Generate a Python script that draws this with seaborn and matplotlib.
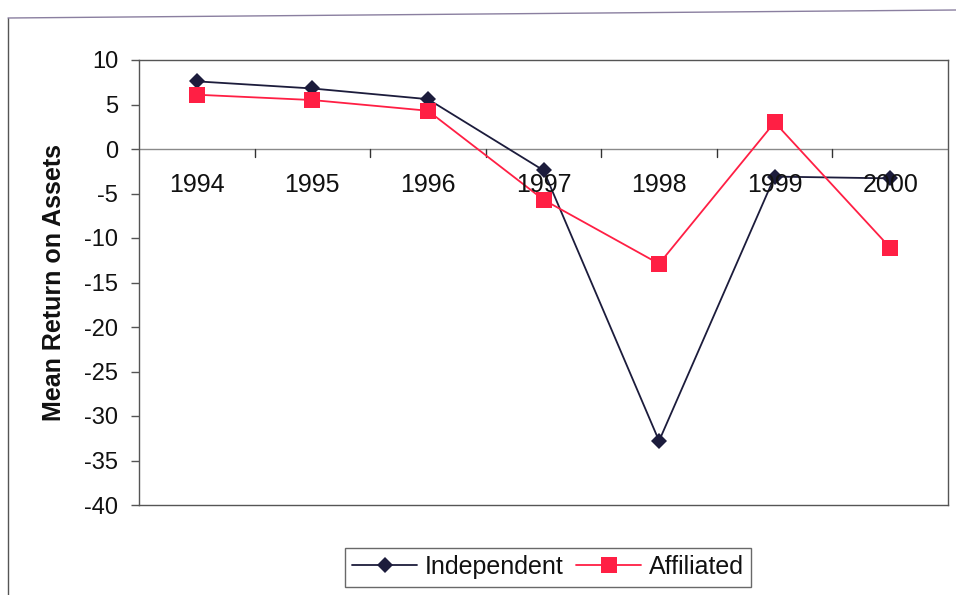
import matplotlib
matplotlib.use("Agg")
import matplotlib.pyplot as plt
import seaborn as sns
import pandas as pd
import numpy as np
from matplotlib.lines import Line2D

years = ["1994", "1995", "1996", "1997", "1998", "1999", "2000"]
independent = [7.6, 6.8, 5.6, -2.4, -32.8, -3.1, -3.3]
affiliated = [6.1, 5.5, 4.3, -5.7, -12.9, 3.0, -11.1]
y_ticks = [10, 5, 0, -5, -10, -15, -20, -25, -30, -35, -40]

df = pd.DataFrame({
    "Year": years * 2,
    "ROA": independent + affiliated,
    "Group": ["Independent"] * len(years) + ["Affiliated"] * len(years),
})

sns.set_theme(style="white")
plt.rcParams["font.family"] = ["Liberation Sans", "DejaVu Sans"]

fig = plt.figure(figsize=(9.56, 5.95), dpi=100)
ax = fig.add_axes([139/956, 1-505/595, (948-139)/956, (505-60)/595])

palette = {"Independent": "#1c1c3c", "Affiliated": "#ff1f44"}
markers = {"Independent": "D", "Affiliated": "s"}
sns.lineplot(data=df, x="Year", y="ROA", hue="Group", style="Group",
             palette=palette, markers=markers, dashes=False, sort=False,
             markersize=9, linewidth=1.3, markeredgewidth=0, ax=ax, legend=False)
for line in ax.get_lines():
    if line.get_marker() == "s":
        line.set_markersize(11)
    else:
        line.set_markersize(8)

ax.set_xlim(-0.5, len(years) - 0.5)
ax.set_ylim(-40, 10)
ax.set_yticks(y_ticks)
ax.set_yticklabels([str(t) for t in y_ticks], fontsize=17, color="#111111")
ax.tick_params(axis="y", direction="out", length=6, width=1, color="#555555", pad=9, left=True)

# category axis crossing at zero
ax.axhline(0, color="#8a8a8a", lw=1.0, zorder=1)
ax.set_xticks(range(len(years)))
ax.set_xticklabels([])
ax.tick_params(axis="x", length=0)
for i, yr in enumerate(years):
    ax.text(i, -4.1, yr, ha="center", va="center", fontsize=18, color="#111111")
for b in np.arange(0.5, len(years) - 0.5, 1.0):
    ax.plot([b, b], [0, -0.9], color="#333333", lw=1.0, zorder=1)

for s in ax.spines.values():
    s.set_color("#555555")
    s.set_linewidth(1.0)
    s.set_visible(True)

ax.set_xlabel("")
ax.set_ylabel("Mean Return on Assets", fontsize=18, fontweight="bold", color="#111111")
ax.yaxis.set_label_coords(-(139-66)/809, 0.5)

# outer chart border
fig.add_artist(Line2D([8/956, 8/956], [0, 1-18/595], color="#555555", lw=1.0))
fig.add_artist(Line2D([8/956, 1], [1-18/595, 1-10/595], color="#8a7fa0", lw=1.0))

handles = [
    Line2D([], [], color=palette["Independent"], marker="D", markersize=8, lw=1.3, markeredgewidth=0),
    Line2D([], [], color=palette["Affiliated"], marker="s", markersize=11, lw=1.3, markeredgewidth=0),
]
leg = fig.legend(handles, ["Independent", "Affiliated"], loc="center",
                 bbox_to_anchor=(548/956, 1-567/595), ncol=2, fontsize=18,
                 frameon=True, fancybox=False, edgecolor="#444444",
                 handlelength=2.6, columnspacing=0.5, handletextpad=0.3,
                 borderpad=0.3, labelcolor="#111111")
leg.get_frame().set_linewidth(1.0)

fig.savefig("out.png", dpi=100)
